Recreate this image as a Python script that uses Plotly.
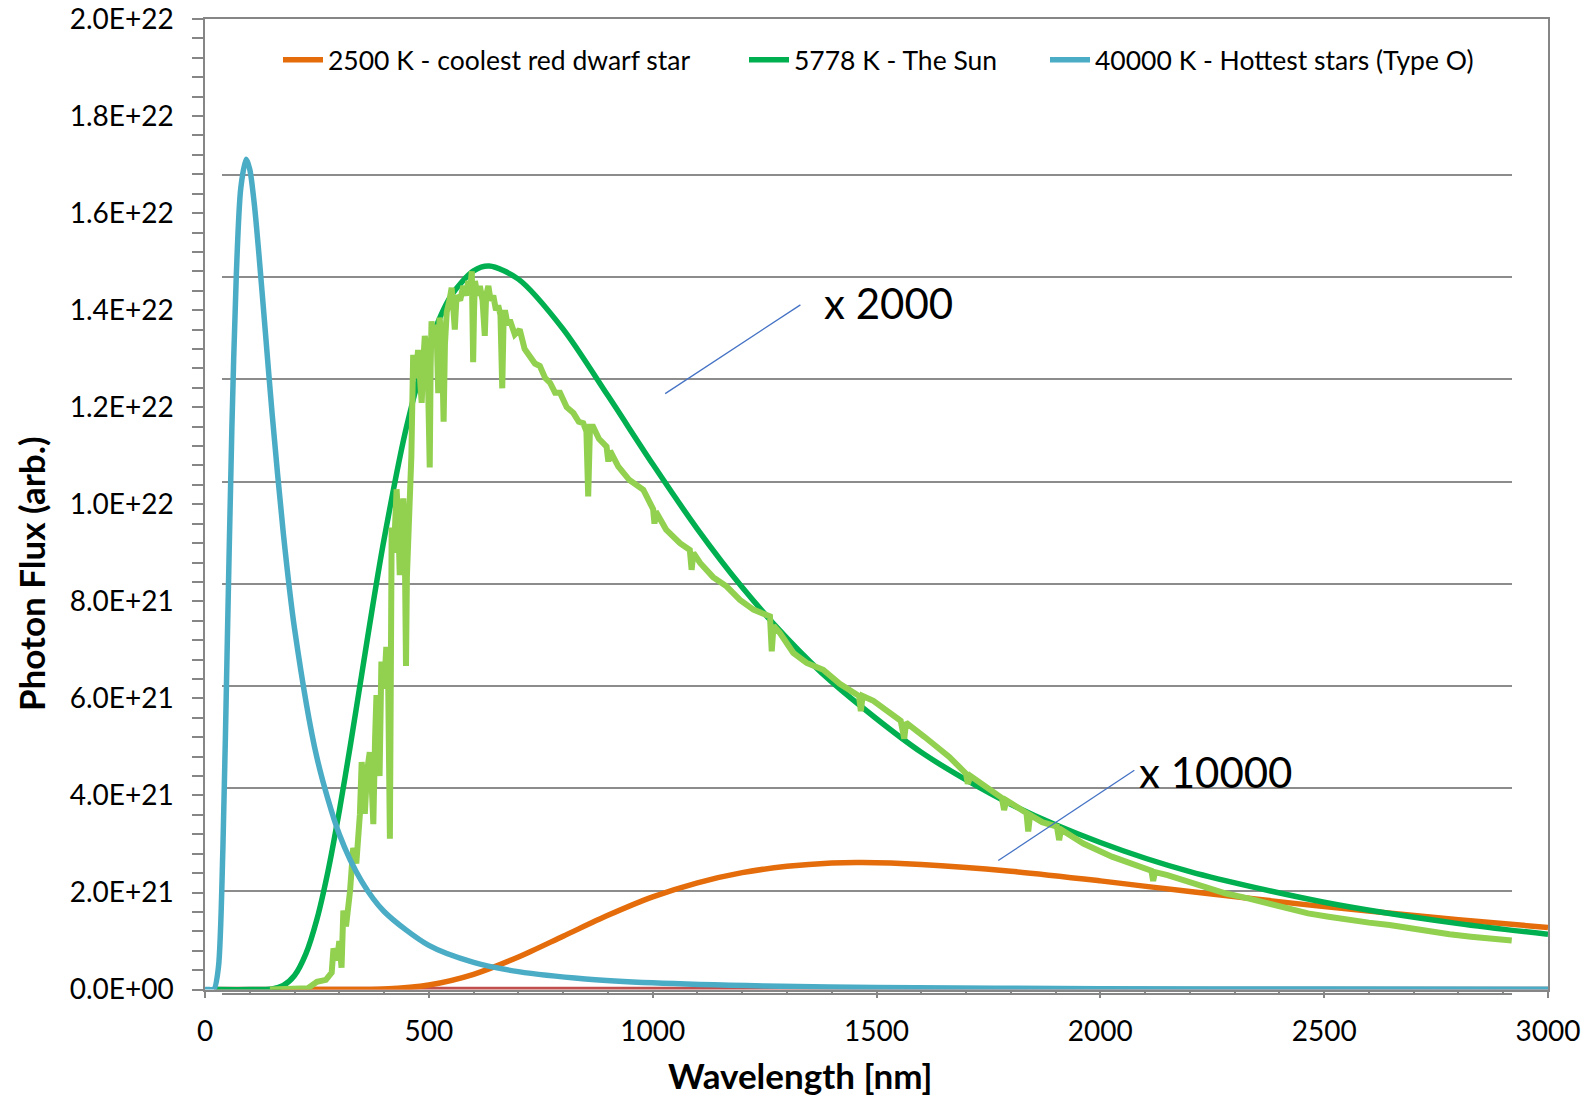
import plotly.graph_objects as go

# ---------------- data (values in units of 1e21 photons, arb.) ----------------
orange_nm = [150, 300, 400, 500, 600, 700, 800, 900, 1000, 1100, 1200, 1300, 1400, 1468,
             1600, 1800, 2000, 2200, 2500, 2800, 3000]
orange_val = [0.0, 0.0003, 0.013, 0.096, 0.316, 0.672, 1.10, 1.53, 1.91, 2.20, 2.41, 2.54, 2.61, 2.62,
              2.58, 2.44, 2.24, 2.02, 1.71, 1.44, 1.28]

green_nm = [25, 100, 150, 175, 200, 225, 250, 275, 300, 325, 350, 375, 400, 450, 500, 550, 600, 635,
            700, 800, 900, 1000, 1100, 1200, 1300, 1400, 1600, 1800, 2000, 2200, 2500, 2800, 3000]
green_val = [0.0, 0.0, 0.015, 0.085, 0.29, 0.73, 1.45, 2.45, 3.68, 5.05, 6.49, 7.93, 9.28, 11.59, 13.26,
             14.30, 14.81, 14.91, 14.64, 13.61, 12.24, 10.83, 9.49, 8.29, 7.24, 6.34, 4.89, 3.82, 3.03,
             2.43, 1.80, 1.36, 1.14]

blue_nm = [0, 10, 20, 30, 40, 50, 60, 70, 80, 92, 100, 110, 120, 135, 150, 175, 200, 250, 300, 350,
           400, 500, 600, 700, 850, 1000, 1250, 1500, 2000, 2500, 3000]
blue_val = [0.0, 0.0, 0.006, 0.46, 2.92, 7.24, 11.56, 14.74, 16.52, 17.11, 16.90, 16.20, 15.20, 13.53,
            11.86, 9.40, 7.44, 4.78, 3.20, 2.23, 1.61, 0.91, 0.56, 0.37, 0.22, 0.14, 0.074, 0.044,
            0.019, 0.010, 0.006]

red_nm = [20, 3000]
red_val = [0.0, 0.0]

sun_nm = [145, 200, 230, 250, 270, 283, 287, 295, 300, 305, 309, 315, 324, 331, 338, 346, 350, 354,
          357, 362, 368, 372, 376, 380, 383, 387, 390, 394, 400, 405, 409, 413, 415, 417, 422, 428,
          432, 435, 439, 443, 446, 449, 451, 454, 458, 461, 465, 470, 476, 480, 484, 488, 491, 497,
          502, 504, 506, 511, 517, 521, 524, 529, 533, 536, 540, 546, 551, 555, 558, 562, 570, 577,
          583, 588, 593, 596, 599, 601, 603, 609, 614, 620, 625, 628, 633, 638, 644, 650, 655, 660,
          664, 667, 670, 676, 681, 692, 703, 714, 726, 737, 748, 760, 771, 782, 793, 808, 823, 835,
          845, 852, 856, 860, 867, 880, 897, 901, 905, 923, 948, 979, 1001, 1004, 1007, 1030, 1061,
          1083, 1087, 1091, 1106, 1135, 1165, 1195, 1225, 1262, 1266, 1270, 1284, 1314, 1344, 1381,
          1418, 1461, 1465, 1469, 1493, 1517, 1554, 1562, 1566, 1607, 1662, 1700, 1704, 1710, 1740,
          1780, 1785, 1790, 1835, 1839, 1843, 1870, 1903, 1908, 1912, 1962, 2026, 2060, 2099, 2114,
          2118, 2122, 2150, 2190, 2240, 2281, 2330, 2373, 2420, 2464, 2510, 2555, 2600, 2646, 2690,
          2737, 2780, 2828, 2870, 2919]
sun_val = [0.0, 0.0, 0.03, 0.16, 0.2, 0.35, 0.85, 0.6, 1.0, 0.45, 1.63, 1.3, 2.03, 2.92, 2.6, 3.61,
           4.69, 4.2, 3.62, 4.5, 4.89, 4.3, 3.41, 5.2, 6.07, 5.2, 4.40, 6.76, 6.2, 7.06, 6.5, 3.11,
           7.0, 9.52, 9.0, 10.31, 9.6, 8.54, 9.7, 10.12, 9.4, 6.67, 8.5, 9.33, 10.2, 11.0, 13.08, 12.6,
           13.18, 12.5, 12.09, 13.0, 13.47, 13.1, 10.76, 12.8, 13.77, 13.3, 13.7, 12.29, 13.85, 13.4,
           11.70, 13.3, 13.96, 14.2, 14.46, 14.0, 13.6, 14.3, 14.2, 14.5, 14.3, 14.6, 14.5, 14.80,
           12.93, 14.0, 14.6, 14.3, 14.5, 14.2, 13.47, 14.3, 14.5, 14.2, 14.3, 14.0, 14.1, 13.9, 12.39,
           13.8, 14.0, 13.7, 13.8, 13.5, 13.6, 13.2, 13.03, 12.9, 12.85, 12.6, 12.5, 12.3, 12.3, 12.0,
           11.88, 11.7, 11.67, 11.5, 10.16, 11.6, 11.60, 11.35, 11.19, 10.88, 11.1, 10.78, 10.50, 10.3,
           9.9, 9.6, 9.85, 9.48, 9.2, 9.06, 8.65, 9.0, 8.79, 8.5, 8.31, 8.03, 7.83, 7.69, 6.97, 7.5,
           7.35, 6.94, 6.73, 6.59, 6.3, 6.05, 5.74, 6.05, 5.95, 5.78, 5.54, 5.17, 5.5, 5.21, 4.80,
           4.45, 4.24, 4.4, 4.2, 3.95, 3.7, 3.9, 3.64, 3.26, 3.6, 3.45, 3.36, 3.08, 3.3, 3.01, 2.74,
           2.63, 2.53, 2.45, 2.24, 2.42, 2.36, 2.24, 2.08, 1.98, 1.88, 1.78, 1.67, 1.57, 1.50, 1.43,
           1.38, 1.33, 1.26, 1.19, 1.14, 1.09, 1.05, 1.01]

UNIT = 1e21
y_tickvals = [0, 2e21, 4e21, 6e21, 8e21, 1e22, 1.2e22, 1.4e22, 1.6e22, 1.8e22, 2e22]
y_ticktext = [f"{v:.1E}" for v in y_tickvals]

legend_names = ["2500 K - coolest red dwarf star", "5778 K - The Sun", "40000 K - Hottest stars (Type O)"]
x_title = "Wavelength [nm]"
y_title = "Photon Flux (arb.)"
callouts = [  # (text, text_x_nm, text_y, line x0, y0, x1, y1) in nm / 1e21
    ("x 2000", 1378, 14.15, 1028, 12.28, 1330, 14.11),
    ("x 10000", 2082, 4.49, 1772, 2.66, 2076, 4.52),
]

# ---------------- figure ----------------
W, H = 1593, 1097
ML, MR, MT, MB = 205, 45, 19, 104
PW, PH = W - ML - MR, H - MT - MB
FONT = "Lato"
AX = "#868686"
LW = 5.5


def scale(v):
    return [a * UNIT for a in v]


def px_x(px):  # pixel -> paper fraction (horizontal)
    return (px - ML) / PW


def px_y(px):  # pixel -> paper fraction (vertical)
    return (MT + PH - px) / PH


fig = go.Figure()

# background (inner) chart that carries the horizontal gridlines
fig.add_trace(go.Scatter(x=[0], y=[0], xaxis="x", yaxis="y", mode="lines",
                         showlegend=False, hoverinfo="skip"))

fig.add_trace(go.Scatter(x=red_nm, y=scale(red_val), xaxis="x2", yaxis="y2", mode="lines",
                         line=dict(color="#C0504D", width=LW), showlegend=False))
fig.add_trace(go.Scatter(x=orange_nm, y=scale(orange_val), xaxis="x2", yaxis="y2", mode="lines",
                         name=legend_names[0], legend="legend",
                         line=dict(color="#E46C0A", width=LW, shape="spline", smoothing=0.8)))
fig.add_trace(go.Scatter(x=green_nm, y=scale(green_val), xaxis="x2", yaxis="y2", mode="lines",
                         name=legend_names[1], legend="legend2",
                         line=dict(color="#00B050", width=LW, shape="spline", smoothing=0.8)))
fig.add_trace(go.Scatter(x=sun_nm, y=scale(sun_val), xaxis="x2", yaxis="y2", mode="lines",
                         line=dict(color="#92D050", width=6), showlegend=False))
fig.add_trace(go.Scatter(x=blue_nm, y=scale(blue_val), xaxis="x2", yaxis="y2", mode="lines",
                         name=legend_names[2], legend="legend3",
                         line=dict(color="#4BACC6", width=LW, shape="spline", smoothing=0.8)))

# inner chart geometry (pixels)
inner_left, inner_right = 221.5, 1512.0
grid_px = 102.3
inner_top_units = 8.2
main_bottom_px = 989.6

tick_font = dict(family=FONT, size=28, color="black")
leg_font = dict(family=FONT, size=26.5, color="black")


def leg(xpx):
    return dict(orientation="h", x=px_x(xpx), y=px_y(60), xanchor="left", yanchor="middle",
                font=leg_font, bgcolor="rgba(0,0,0,0)", itemwidth=40)


fig.update_layout(
    width=W, height=H,
    margin=dict(l=ML, r=MR, t=MT, b=MB, pad=0, autoexpand=False),
    paper_bgcolor="white", plot_bgcolor="rgba(0,0,0,0)",
    font=dict(family=FONT, color="black"),
    xaxis=dict(domain=[px_x(inner_left), px_x(inner_right)], anchor="y", automargin=False,
               range=[0, 1], showgrid=False, zeroline=False, showticklabels=False,
               showline=True, linecolor=AX, linewidth=1.5, ticks=""),
    yaxis=dict(domain=[0, inner_top_units * grid_px / PH], anchor="x", automargin=False,
               range=[0, inner_top_units], dtick=1, tick0=0, showgrid=True, gridcolor="#8C8C8C",
               gridwidth=1.5, zeroline=False, showticklabels=False, showline=False, ticks=""),
    xaxis2=dict(domain=[0, 1], anchor="y2", automargin=False, range=[0, 3000], tick0=0, dtick=500,
                showgrid=False, zeroline=False, showline=True, linecolor=AX, linewidth=1.5,
                mirror=True, ticks="outside", ticklen=7, tickwidth=1.5, tickcolor=AX,
                minor=dict(tick0=0, dtick=100, ticks="outside", ticklen=4, tickwidth=1.5, tickcolor=AX),
                tickfont=tick_font, ticklabelstandoff=9),
    yaxis2=dict(domain=[px_y(main_bottom_px), 1], anchor="x2", automargin=False,
                range=[0, 2e22], tickmode="array", tickvals=y_tickvals, ticktext=y_ticktext,
                showgrid=False, zeroline=False, showline=True, linecolor=AX, linewidth=1.5,
                mirror=True, ticks="outside", ticklen=11, tickwidth=1.5, tickcolor=AX,
                minor=dict(tickmode="linear", tick0=0, dtick=4e20, ticks="outside", ticklen=11,
                           tickwidth=1.5, tickcolor=AX),
                tickfont=tick_font, ticklabelstandoff=13),
    legend=leg(278),
    legend2=leg(744),
    legend3=leg(1045),
    showlegend=True,
)

# axis titles (placed where the reference has them)
fig.add_annotation(text=f"<b>{x_title}</b>", xref="paper", yref="paper", x=px_x(800.5),
                   y=px_y(1075), xanchor="center", yanchor="middle", showarrow=False,
                   font=dict(family=FONT, size=35, color="black"))
fig.add_annotation(text=f"<b>{y_title}</b>", xref="paper", yref="paper", x=px_x(31),
                   y=px_y(574), xanchor="center", yanchor="middle", showarrow=False, textangle=-90,
                   font=dict(family=FONT, size=35, color="black"))

for text, tx, ty, x0, y0, x1, y1 in callouts:
    fig.add_shape(type="line", xref="x2", yref="y2", x0=x0, y0=y0 * UNIT, x1=x1, y1=y1 * UNIT,
                  line=dict(color="#4472C4", width=1.3))
    fig.add_annotation(text=text, xref="x2", yref="y2", x=tx, y=ty * UNIT, xanchor="left",
                       yanchor="middle", showarrow=False,
                       font=dict(family=FONT, size=42, color="black"))

fig.write_html("out.html")
